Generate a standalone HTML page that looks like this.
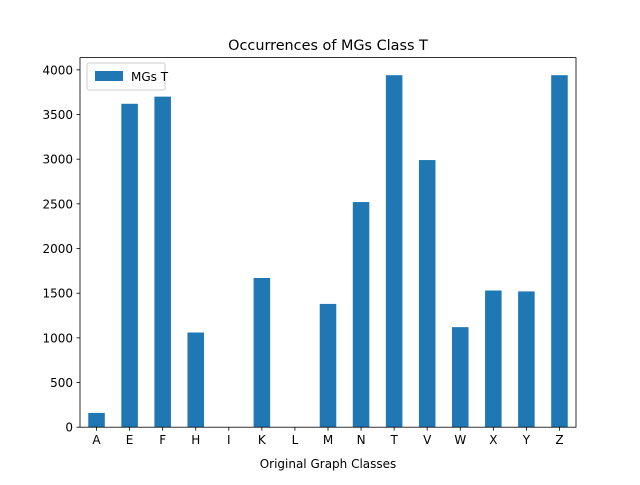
<!DOCTYPE html>
<html><head><meta charset="utf-8"><style>
body{margin:0;background:#fff;}
svg text{font-family:"DejaVu Sans","Liberation Sans",sans-serif;}
</style></head><body>
<svg id="chart" width="640" height="480" xmlns="http://www.w3.org/2000/svg">
<rect width="640" height="480" fill="#fff"/>
<text x="328" y="50" font-size="14.4" text-anchor="middle">Occurrences of MGs Class T</text>
<g id="bars"></g>
<g id="axes"></g>
<text x="328" y="468" font-size="12" text-anchor="middle">Original Graph Classes</text>
<g>
<rect x="87" y="63" width="78" height="27" rx="2" fill="#fff" fill-opacity="0.8" stroke="#ccc"/>
<rect x="95" y="71" width="28" height="10" fill="#1f77b4"/>
<text x="131" y="81" font-size="12">MGs T</text>
</g>
</svg>
<script>
const categories=["A","E","F","H","I","K","L","M","N","T","V","W","X","Y","Z"];
const values=[160,3620,3700,1060,0,1670,0,1380,2520,3940,2990,1120,1530,1520,3940];
const yTicks=[0,500,1000,1500,2000,2500,3000,3500,4000];
const L=80,R=576,T=57.6,B=427.2;
const ymax=Math.max(...values)*1.05;
const ns="http://www.w3.org/2000/svg";
const step=(R-L)/categories.length;
const xc=i=>L+step*(i+0.5);
const y=v=>B-(v/ymax)*(B-T);
const bars=document.getElementById('bars'),axes=document.getElementById('axes');
function mk(tag,attrs,parent){const e=document.createElementNS(ns,tag);for(const k in attrs)e.setAttribute(k,attrs[k]);parent.appendChild(e);return e;}
values.forEach((v,i)=>{
 const r=mk('rect',{x:xc(i)-step/4,y:y(v),width:step/2,height:B-y(v),fill:'#1f77b4'},bars);
 
 
 const t=mk('line',{x1:xc(i),x2:xc(i),y1:B,y2:B+3.5,stroke:'#000','stroke-width':0.8},axes);
 
 
 const l=mk('text',{x:xc(i),y:B+17,'font-size':12,'text-anchor':'middle'},axes);
 l.textContent=categories[i];
 
 
});
yTicks.forEach(v=>{
 const t=mk('line',{x1:L-3.5,x2:L,y1:y(v),y2:y(v),stroke:'#000','stroke-width':0.8},axes);
 
 
 const l=mk('text',{x:L-7,y:y(v)+4.5,'font-size':12,'text-anchor':'end'},axes);
 l.textContent=v;
 
 
});
const f=mk('rect',{x:L,y:T,width:R-L,height:B-T,fill:'none',stroke:'#000','stroke-width':0.8},axes);


</script>
</body></html>
